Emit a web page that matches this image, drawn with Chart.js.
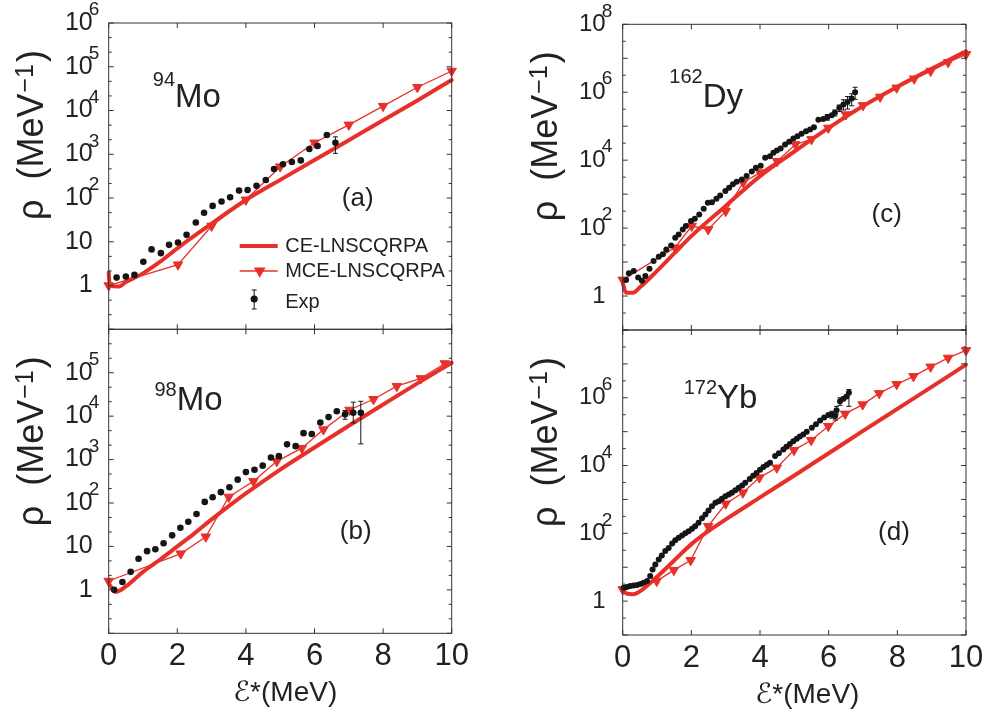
<!DOCTYPE html>
<html>
<head>
<meta charset="utf-8">
<title>Level densities</title>
<script src="https://cdn.jsdelivr.net/npm/chart.js@4.4.1/dist/chart.umd.min.js"></script>
<style>
  body { margin: 0; background: #fff; }
  #wrap { position: relative; width: 991px; height: 717px; overflow: hidden; }
  #wrap canvas { position: absolute; }
</style>
</head>
<body>
<div id="wrap">
  <canvas id="panelA" width="480" height="340" style="left:0px;top:0px"></canvas>
  <canvas id="panelC" width="471" height="340" style="left:520px;top:0px"></canvas>
  <canvas id="panelB" width="480" height="397" style="left:0px;top:320px"></canvas>
  <canvas id="panelD" width="471" height="397" style="left:520px;top:320px"></canvas>
</div>
<script>
// ---- (a) 94Mo ----
const mo94CeE = [0, 0.03, 0.3, 0.5, 1, 1.5, 2, 3, 4, 5, 6, 7, 8, 9, 10];
const mo94CeRho = [2.0, 1.0, 0.95, 1.2, 1.9, 3.5, 7.1, 26, 90, 260, 740, 2100, 6000, 17000, 50000];
const mo94MceE = [0, 2.02, 3, 4, 5, 6, 7, 8, 9, 10];
const mo94MceRho = [1.0, 3.0, 23, 91, 520, 1830, 4700, 12600, 34000, 80000];
const mo94ExpE = [0.23, 0.50, 0.75, 1.01, 1.25, 1.52, 1.76, 2.02, 2.27, 2.54, 2.78, 3.03, 3.29, 3.54, 3.80, 4.05, 4.31,
  4.58, 4.82, 5.08, 5.34, 5.60, 5.85, 6.09, 6.36, 6.61];
const mo94ExpRho = [1.52, 1.6, 1.75, 3.5, 6.7, 5.5, 8.5, 9.6, 14.4, 27.5, 46, 66, 83, 104, 148, 153, 190,
  258, 460, 590, 665, 725, 1320, 1550, 2750, 1830];
const mo94ErrE = [6.61];
const mo94ErrLo = [1050];
const mo94ErrHi = [2500];

// ---- (b) 98Mo ----
const mo98CeE = [0, 0.2, 0.5, 1, 1.5, 2, 2.5, 3, 3.5, 4, 5, 6, 7, 8, 9, 10];
const mo98CeRho = [1.4, 0.9, 1.2, 2.6, 5.0, 10, 20, 42, 85, 166, 590, 1900, 6000, 18600, 57000, 170000];
const mo98MceE = [0, 2.1, 2.83, 3.5, 4.22, 4.9, 5.63, 6.26, 7.02, 7.72, 8.4, 9.1, 9.8];
const mo98MceRho = [1.6, 6.8, 16.7, 138, 316, 910, 1830, 4900, 13900, 24500, 49000, 74000, 163000];
const mo98ExpE = [0.16, 0.40, 0.64, 0.87, 1.12, 1.36, 1.60, 1.85, 2.09, 2.32, 2.56, 2.80, 3.03, 3.27, 3.52, 3.76,
  4.00, 4.25, 4.49, 4.73, 4.96, 5.20, 5.45, 5.68, 5.92, 6.17, 6.41, 6.65, 6.89, 7.13, 7.35];
const mo98ExpRho = [1.0, 1.52, 2.6, 5.2, 7.8, 8.6, 11.8, 18, 27, 37, 56, 106, 136, 178, 230, 345,
  515, 585, 725, 1120, 1200, 2240, 2040, 4060, 3870, 7100, 9500, 13000, 11000, 12000, 12000];
const mo98ErrE = [6.89, 7.13, 7.35];
const mo98ErrLo = [8500, 7000, 2300];
const mo98ErrHi = [13500, 21000, 22000];

// ---- (c) 162Dy ----
const dy162CeE = [0, 0.1, 0.3, 0.5, 1, 1.5, 2, 3, 4, 5, 6, 7, 8, 9, 10];
const dy162CeRho = [2.5, 1.25, 1.25, 1.8, 5.5, 18, 58, 450, 3400, 18000, 89000, 390000, 1.45e6, 4.9e6, 1.6e7];
const dy162MceE = [0, 1.52, 2.01, 2.49, 3.0, 3.51, 4.0, 4.5, 5.03, 5.5, 5.99, 6.5, 7.0, 7.5, 7.98, 8.49, 8.97, 9.48, 10];
const dy162MceRho = [3, 26.5, 115, 91, 316, 2200, 4300, 9300, 29000, 41000, 89000, 220000, 410000, 730000,
  1.35e6, 2.5e6, 4.2e6, 7.6e6, 1.3e7];
const dy162ExpE = [0.10, 0.18, 0.32, 0.45, 0.56, 0.66, 0.78, 0.90, 1.05, 1.17, 1.27, 1.41, 1.53, 1.63, 1.75, 1.84,
  1.99, 2.10, 2.23, 2.36, 2.48, 2.60, 2.73, 2.84, 2.99, 3.10, 3.21, 3.32, 3.47, 3.61, 3.76, 3.88, 4.02, 4.15,
  4.29, 4.39, 4.49, 4.60, 4.73, 4.85, 4.97, 5.09, 5.21, 5.34, 5.46, 5.57, 5.70, 5.84, 5.96, 6.09, 6.18, 6.31,
  6.43, 6.55, 6.67, 6.77];
const dy162ExpRho = [2.95, 4.7, 5.5, 3.5, 2.8, 3.9, 6.4, 10.7, 14.4, 17, 23.6, 31, 52, 65, 91, 115,
  162, 190, 252, 372, 560, 580, 730, 910, 1230, 1550, 1940, 2300, 2700, 3400, 4600, 6000, 6900, 11700,
  13100, 16600, 19400, 22000, 29000, 35000, 43500, 51000, 60000, 71000, 80000, 93000, 155000, 162000, 183000, 210000, 250000, 350000,
  435000, 520000, 650000, 1000000];
const dy162ErrE = [5.96, 6.18, 6.31, 6.43, 6.55, 6.67, 6.77];
const dy162ErrLo = [150000, 200000, 270000, 300000, 320000, 400000, 620000];
const dy162ErrHi = [220000, 300000, 420000, 600000, 750000, 900000, 1400000];

// ---- (d) 172Yb ----
const yb172CeE = [0, 0.1, 0.3, 0.6, 1, 1.5, 2, 2.5, 3, 4, 5, 6, 7, 8, 9, 10];
const yb172CeRho = [2.2, 1.7, 1.6, 2.3, 5.2, 15.8, 48, 117, 257, 1150, 5100, 23000, 105000, 470000, 2.1e6, 9.5e6];
const yb172MceE = [0, 0.99, 1.49, 1.98, 2.49, 3.0, 3.5, 3.98, 4.49, 4.99, 5.49, 5.99, 6.48, 6.99, 7.47, 7.98, 8.47, 8.97, 9.48, 10];
const yb172MceRho = [2.2, 3.9, 8.2, 16, 163, 745, 1580, 4400, 8600, 28500, 56000, 145000, 335000, 630000,
  1.35e6, 2.5e6, 4.3e6, 8.2e6, 1.5e7, 2.5e7];
const yb172ExpE = [0.03, 0.12, 0.22, 0.32, 0.42, 0.52, 0.61, 0.71, 0.80, 0.87, 0.95, 1.05, 1.14, 1.24, 1.34, 1.44,
  1.53, 1.63, 1.73, 1.82, 1.92, 2.02, 2.11, 2.21, 2.31, 2.41, 2.50, 2.60, 2.70, 2.80, 2.89, 2.99, 3.09, 3.18,
  3.28, 3.38, 3.48, 3.57, 3.70, 3.80, 3.90, 4.00, 4.10, 4.20, 4.29, 4.44, 4.55, 4.68, 4.77, 4.87, 4.97, 5.07,
  5.16, 5.26, 5.36, 5.51, 5.63, 5.75, 5.87, 5.99, 6.09, 6.19, 6.23, 6.33, 6.43, 6.52, 6.59];
const yb172ExpRho = [2.5, 2.6, 2.8, 2.9, 3.0, 3.2, 3.5, 3.9, 5.5, 8.6, 12, 17, 22, 30, 37, 50,
  63, 74, 87, 100, 116, 137, 163, 205, 280, 360, 470, 630, 795, 890, 1050, 1250, 1400, 1580,
  1870, 2200, 2580, 3100, 4000, 5000, 6000, 7500, 9000, 10500, 12000, 19000, 23000, 30000, 36000, 43000, 52000, 62000,
  72000, 83000, 100000, 130000, 165000, 214000, 260000, 310000, 320000, 290000, 430000, 790000, 930000, 1100000, 1400000];
const yb172ErrE = [6.09, 6.19, 6.23, 6.33, 6.59];
const yb172ErrLo = [250000, 220000, 330000, 600000, 560000];
const yb172ErrHi = [400000, 380000, 560000, 1000000, 1750000];

const RED = '#e8302a';
const DOT = '#151515';
const INK = '#222';
const FONT = "'Liberation Sans', Arial, Helvetica, 'DejaVu Sans', sans-serif";

Chart.defaults.font.family = FONT;

function pts(xs, ys) {
  return xs.map(function (x, i) { return { x: x, y: ys[i] }; });
}

// superscripted text: base text left-aligned at x, baseline y
function drawSupText(ctx, sup, main, x, y, supSize, mainSize, raise) {
  ctx.textBaseline = 'alphabetic';
  ctx.font = supSize + 'px ' + FONT;
  ctx.textAlign = 'right';
  ctx.fillText(sup, x, y - raise);
  ctx.font = mainSize + 'px ' + FONT;
  ctx.textAlign = 'left';
  ctx.fillText(main, x, y);
}

function drawYTitle(ctx, x, yc) {
  const big = '36px ' + FONT, small = '25px ' + FONT;
  ctx.save();
  ctx.translate(x, yc);
  ctx.rotate(-Math.PI / 2);
  ctx.textAlign = 'left';
  ctx.textBaseline = 'alphabetic';
  ctx.font = big;
  const w1 = ctx.measureText('ρ  (MeV').width, w3 = ctx.measureText(')').width;
  ctx.font = small;
  const w2 = ctx.measureText('−1').width;
  let cx = -(w1 + w2 + w3 + 3) / 2;
  ctx.font = big;
  ctx.fillText('ρ  (MeV', cx, 0);
  cx += w1 + 1;
  ctx.font = small;
  ctx.fillText('−1', cx, -10);
  cx += w2 + 2;
  ctx.font = big;
  ctx.fillText(')', cx, 0);
  ctx.restore();
}

function decoPlugin(p) {
  return {
    id: 'deco' + p.tag,
    afterDatasetsDraw: function (chart) {
      // error bars of experimental points
      const ctx = chart.ctx, xs = chart.scales.x, ys = chart.scales.y;
      ctx.save();
      ctx.strokeStyle = DOT;
      ctx.lineWidth = 1;
      p.errE.forEach(function (e, i) {
        const px = xs.getPixelForValue(e);
        const y1 = ys.getPixelForValue(p.errLo[i]), y2 = ys.getPixelForValue(p.errHi[i]);
        ctx.beginPath();
        ctx.moveTo(px, y1); ctx.lineTo(px, y2);
        ctx.moveTo(px - 2.5, y1); ctx.lineTo(px + 2.5, y1);
        ctx.moveTo(px - 2.5, y2); ctx.lineTo(px + 2.5, y2);
        ctx.stroke();
      });
      ctx.restore();
    },
    afterDraw: function (chart) {
      const ctx = chart.ctx, a = chart.chartArea, xs = chart.scales.x, ys = chart.scales.y;
      ctx.save();

      // frame with inward ticks
      ctx.strokeStyle = '#333';
      ctx.lineWidth = 1;
      ctx.strokeRect(a.left, a.top, a.right - a.left, a.bottom - a.top);
      ctx.beginPath();
      for (let v = 0; v <= 10; v += 2) {
        const px = xs.getPixelForValue(v);
        ctx.moveTo(px, a.bottom); ctx.lineTo(px, a.bottom - 5);
        ctx.moveTo(px, a.top); ctx.lineTo(px, a.top + 5);
      }
      for (let k = 0; k <= p.decades * p.yDiv; k++) {
        const ex = -1 + k / p.yDiv;
        const py = ys.getPixelForValue(Math.pow(10, ex));
        const len = (k % p.yDiv === 0) ? 5 : 3;
        ctx.moveTo(a.left, py); ctx.lineTo(a.left + len, py);
        ctx.moveTo(a.right, py); ctx.lineTo(a.right - len, py);
      }
      ctx.stroke();

      // y tick labels 1, 10, 10^n
      ctx.fillStyle = INK;
      p.yLabels.forEach(function (e) {
        const py = ys.getPixelForValue(Math.pow(10, e));
        ctx.font = p.yFont + 'px ' + FONT;
        ctx.textAlign = 'right';
        ctx.textBaseline = 'middle';
        ctx.fillText(e === 0 ? '1' : '10', a.left - p.yGap, py);
        if (e > 1) {
          ctx.font = '19px ' + FONT;
          ctx.textAlign = 'left';
          ctx.fillText(String(e), a.left - p.yGap - 4, py - 13);
        }
      });

      drawYTitle(ctx, a.left - 66, a.top + 112);

      // nucleus name
      drawSupText(ctx, p.mass, p.elem, a.left + p.nameX, a.top + p.nameY, 20, 33, p.supRaise);

      // panel letter
      ctx.font = '26px ' + FONT;
      ctx.textAlign = 'center';
      ctx.textBaseline = 'middle';
      ctx.fillText(p.letter, a.left + p.letterX, a.top + p.letterY);

      if (p.xTitle) {
        ctx.font = '28px ' + FONT;
        ctx.fillText('ℰ*(MeV)', (a.left + a.right) / 2 + p.xTitleShift, a.bottom + 60);
      }

      if (p.legend) {
        const lx = a.left + 131, tx = a.left + 176.5;
        ctx.font = '20px ' + FONT;
        ctx.textAlign = 'left';
        ctx.textBaseline = 'middle';
        ctx.strokeStyle = RED;
        ctx.lineWidth = 4;
        ctx.beginPath(); ctx.moveTo(lx, a.top + 223); ctx.lineTo(lx + 38, a.top + 223); ctx.stroke();
        ctx.fillText('CE-LNSCQRPA', tx, a.top + 223);
        ctx.lineWidth = 1.3;
        ctx.beginPath(); ctx.moveTo(lx, a.top + 248); ctx.lineTo(lx + 38, a.top + 248); ctx.stroke();
        ctx.fillStyle = RED;
        Chart.helpers.drawPoint(ctx, { pointStyle: 'triangle', rotation: 180, radius: 5.5, borderWidth: 1 }, lx + 20, a.top + 248);
        ctx.fillStyle = INK;
        ctx.fillText('MCE-LNSCQRPA', tx, a.top + 248);
        // Exp sample: dot with error bar
        const ex = a.left + 145.5, ey = a.top + 276;
        ctx.strokeStyle = DOT;
        ctx.lineWidth = 1;
        ctx.beginPath();
        ctx.moveTo(ex, ey - 9); ctx.lineTo(ex, ey + 10);
        ctx.moveTo(ex - 2.5, ey - 9); ctx.lineTo(ex + 2.5, ey - 9);
        ctx.moveTo(ex - 2.5, ey + 10); ctx.lineTo(ex + 2.5, ey + 10);
        ctx.stroke();
        ctx.fillStyle = DOT;
        ctx.beginPath(); ctx.arc(ex, ey, 3.6, 0, Math.PI * 2); ctx.fill();
        ctx.fillStyle = INK;
        ctx.fillText('Exp', tx, a.top + 279);
      }
      ctx.restore();
    }
  };
}

function makePanel(id, p) {
  const ctx = document.getElementById(id).getContext('2d');
  return new Chart(ctx, {
    type: 'line',
    data: {
      datasets: [
        {
          label: 'Exp',
          data: pts(p.expE, p.expRho),
          showLine: false,
          pointRadius: p.dotR,
          pointBackgroundColor: DOT,
          pointBorderWidth: 0,
          clip: false,
          order: 1
        },
        {
          label: 'MCE-LNSCQRPA',
          data: pts(p.mceE, p.mceRho),
          borderColor: RED,
          borderWidth: 1.3,
          pointStyle: 'triangle',
          rotation: 180,
          pointRadius: 5.5,
          pointBackgroundColor: RED,
          pointBorderColor: RED,
          pointBorderWidth: 1,
          clip: false,
          order: 2
        },
        {
          label: 'CE-LNSCQRPA',
          data: pts(p.ceE, p.ceRho),
          borderColor: RED,
          borderWidth: 4,
          borderJoinStyle: 'round',
          borderCapStyle: 'round',
          cubicInterpolationMode: 'monotone',
          pointRadius: 0,
          clip: false,
          order: 3
        }
      ]
    },
    options: {
      responsive: false,
      animation: false,
      events: [],
      layout: { padding: p.pad },
      plugins: { legend: { display: false }, tooltip: { enabled: false } },
      scales: {
        x: {
          type: 'linear',
          min: 0,
          max: 10,
          grid: { display: false, drawTicks: false },
          border: { display: false },
          ticks: { display: p.xTitle, stepSize: 2, maxRotation: 0, padding: 5, color: INK, font: { size: 31 } },
          afterFit: function (s) { s.height = p.xH; }
        },
        y: {
          type: 'logarithmic',
          min: 0.1,
          max: p.yMax,
          grid: { display: false, drawTicks: false },
          border: { display: false },
          ticks: { display: false },
          afterFit: function (s) { s.width = p.yW; }
        }
      }
    },
    plugins: [decoPlugin(p)]
  });
}

makePanel('panelA', {
  tag: 'A', ceE: mo94CeE, ceRho: mo94CeRho, mceE: mo94MceE, mceRho: mo94MceRho,
  expE: mo94ExpE, expRho: mo94ExpRho, errE: mo94ErrE, errLo: mo94ErrLo, errHi: mo94ErrHi,
  pad: { left: 0, top: 23, right: 28.3, bottom: 0 }, yW: 108.7, xH: 10.7, yMax: 1e6, decades: 7, yDiv: 3,
  yLabels: [0, 1, 2, 3, 4, 5, 6], yFont: 25, yGap: 16, dotR: 3.3,
  mass: '94', elem: 'Mo', nameX: 66.3, nameY: 83.7, supRaise: 21,
  letter: '(a)', letterX: 249, letterY: 176, xTitle: false, legend: true
});

makePanel('panelB', {
  tag: 'B', ceE: mo98CeE, ceRho: mo98CeRho, mceE: mo98MceE, mceRho: mo98MceRho,
  expE: mo98ExpE, expRho: mo98ExpRho, errE: mo98ErrE, errLo: mo98ErrLo, errHi: mo98ErrHi,
  pad: { left: 0, top: 9.3, right: 28.3, bottom: 0 }, yW: 108.7, xH: 83.7, yMax: 1e6, decades: 7, yDiv: 3,
  yLabels: [0, 1, 2, 3, 4, 5], yFont: 25, yGap: 16, dotR: 3.3,
  mass: '98', elem: 'Mo', nameX: 68, nameY: 80.7, supRaise: 14,
  letter: '(b)', letterX: 247, letterY: 202.4, xTitle: true, xTitleShift: 5, legend: false
});

makePanel('panelC', {
  tag: 'C', ceE: dy162CeE, ceRho: dy162CeRho, mceE: dy162MceE, mceRho: dy162MceRho,
  expE: dy162ExpE, expRho: dy162ExpRho, errE: dy162ErrE, errLo: dy162ErrLo, errHi: dy162ErrHi,
  pad: { left: 0, top: 24.3, right: 25, bottom: 0 }, yW: 102.7, xH: 10, yMax: 1e8, decades: 9, yDiv: 2,
  yLabels: [0, 2, 4, 6, 8], yFont: 24, yGap: 17, dotR: 3.0,
  mass: '162', elem: 'Dy', nameX: 80, nameY: 82.7, supRaise: 24,
  letter: '(c)', letterX: 264, letterY: 190.7, xTitle: false, legend: false
});

makePanel('panelD', {
  tag: 'D', ceE: yb172CeE, ceRho: yb172CeRho, mceE: yb172MceE, mceRho: yb172MceRho,
  expE: yb172ExpE, expRho: yb172ExpRho, errE: yb172ErrE, errLo: yb172ErrLo, errHi: yb172ErrHi,
  pad: { left: 0, top: 10, right: 25, bottom: 0 }, yW: 102.7, xH: 82, yMax: 1e8, decades: 9, yDiv: 2,
  yLabels: [0, 2, 4, 6], yFont: 24, yGap: 17, dotR: 3.0,
  mass: '172', elem: 'Yb', nameX: 94.3, nameY: 78, supRaise: 14,
  letter: '(d)', letterX: 271.3, letterY: 203, xTitle: true, xTitleShift: 13, legend: false
});
</script>
</body>
</html>
